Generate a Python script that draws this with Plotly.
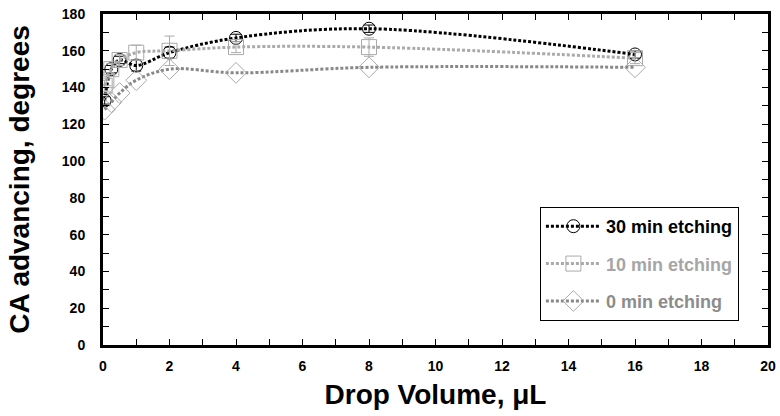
import plotly.graph_objects as go

x30 = [0.05, 0.25, 0.5, 1, 2, 4, 8, 16]
y30 = [133, 150, 155, 152, 159, 167, 172, 158]
e30 = [2, 2, 2, 3, 3, 2, 2, 2]

x10 = [0.05, 0.1, 0.25, 0.5, 1, 2, 4, 8, 16]
y10 = [141, 144, 150, 155, 159, 160, 162, 162, 156]
e10 = [3, 3, 3, 3, 4, 8, 3, 5, 3]

x0 = [0.05, 0.25, 0.5, 1, 2, 4, 8, 16]
y0 = [128, 132, 137, 144, 150, 148, 151, 151]

names = ["30 min etching", "10 min etching", "0 min etching"]
name_colors = ["#000000", "#a6a6a6", "#8c8c8c"]
FONT = "Arial, Liberation Sans, sans-serif"


def label(i):
    return f"<span style='color:{name_colors[i]}'>{names[i]}</span>"


fig = go.Figure()
fig.add_trace(go.Scatter(
    x=x30, y=y30, name=label(0), legendgroup="a", mode="lines+markers",
    line=dict(color="black", width=3, dash="3px,2px", shape="spline", smoothing=1.0),
    marker=dict(symbol="circle-open", size=13, color="black", line=dict(width=1)),
    error_y=dict(type="data", array=e30, color="black", thickness=1, width=5),
))
fig.add_trace(go.Scatter(
    x=x10, y=y10, name=label(1), legendgroup="b", mode="lines+markers",
    line=dict(color="#aaaaaa", width=3, dash="3px,2px", shape="spline", smoothing=1.0),
    marker=dict(symbol="square-open", size=15, color="#aaaaaa", line=dict(width=1)),
    error_y=dict(type="data", array=e10, color="#aaaaaa", thickness=1, width=5),
))
fig.add_trace(go.Scatter(
    x=x0, y=y0, name=label(2), legendgroup="c", mode="lines+markers",
    line=dict(color="#888888", width=3, dash="3px,2px", shape="spline", smoothing=1.0),
    marker=dict(symbol="diamond-open", size=16, color="#aaaaaa", line=dict(width=1)),
))

axis_common = dict(
    showline=True, linecolor="black", linewidth=3, mirror="ticks",
    ticks="inside", ticklen=6, tickcolor="black", tickwidth=1,
    showgrid=False, zeroline=False, automargin=False, ticklabeloverflow="allow",
    tickfont=dict(family=FONT, size=14, color="black", weight="bold"),
)

fig.update_xaxes(
    range=[0, 20], dtick=2, tick0=0, ticklabelstandoff=6,
    minor=dict(dtick=1, ticks="inside", ticklen=6, tickcolor="black", tickwidth=1),
    title=dict(text="Drop Volume, μL", font=dict(family=FONT, size=28, color="black", weight="bold"), standoff=12),
    **axis_common,
)
fig.update_yaxes(
    range=[0, 180], dtick=20, tick0=0, ticklabelstandoff=12,
    minor=dict(dtick=10, ticks="inside", ticklen=6, tickcolor="black", tickwidth=1),
    title=dict(text="CA advancing, degrees", font=dict(family=FONT, size=28, color="black", weight="bold"), standoff=25),
    **axis_common,
)

fig.update_layout(
    width=780, height=416,
    margin=dict(l=103, r=12, t=14, b=71),
    paper_bgcolor="white", plot_bgcolor="white",
    font=dict(family=FONT),
    showlegend=True,
    legend=dict(
        x=0.657, y=0.417, xanchor="left", yanchor="top",
        bgcolor="white", bordercolor="black", borderwidth=1,
        font=dict(family=FONT, size=18, color="black", weight="bold"),
        tracegroupgap=11, itemwidth=55, traceorder="grouped",
    ),
)

fig.write_html("out.html", config={"displayModeBar": False},
               post_script="document.body.style.margin='0px';")
